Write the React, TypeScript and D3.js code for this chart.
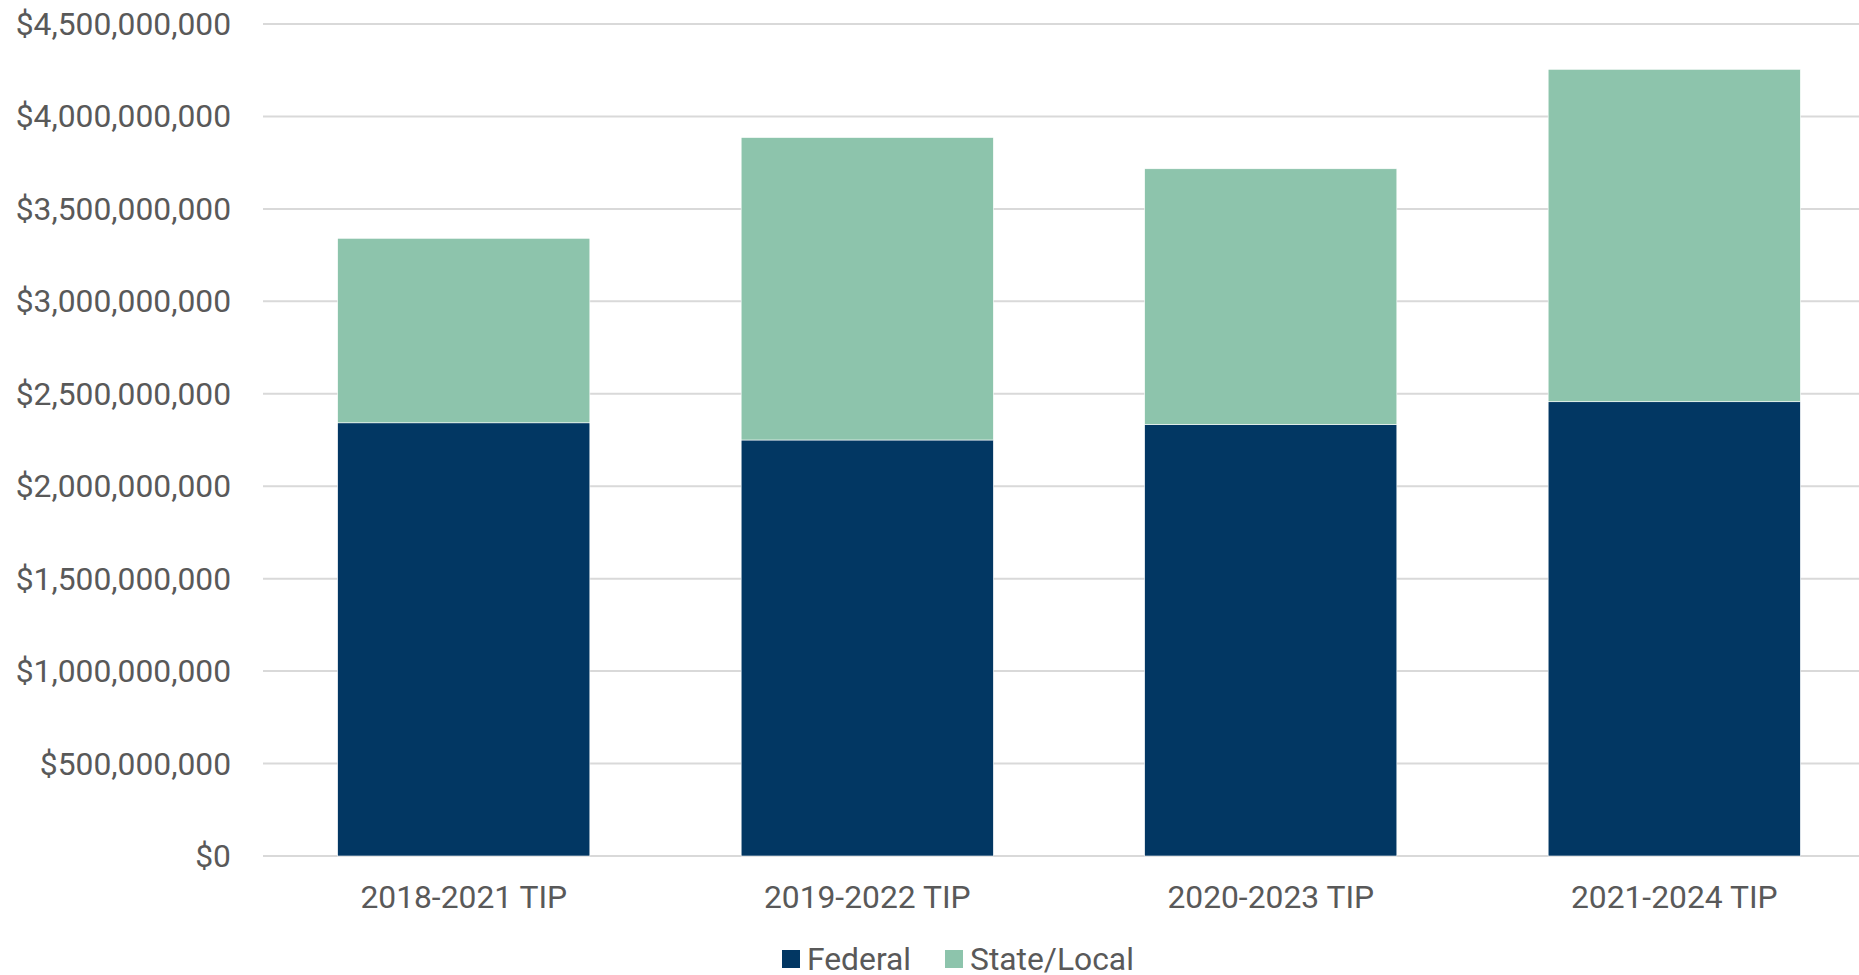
import React from "react";
import * as d3 from "d3";

const categories = ["2018-2021 TIP", "2019-2022 TIP", "2020-2023 TIP", "2021-2024 TIP"];
const federal = [2343000000, 2250000000, 2334000000, 2457000000];
const stateLocal = [998000000, 1636000000, 1383000000, 1798000000];
const seriesNames = ["Federal", "State/Local"];
const seriesColors = ["#023763", "#8DC4AC"];
const yTicks = [0, 500000000, 1000000000, 1500000000, 2000000000, 2500000000, 3000000000, 3500000000, 4000000000, 4500000000];

const W = 1859;
const H = 975;

export default function App() {
  const x = d3.scaleBand<string>().domain(categories).range([262, 1876]).paddingInner(0.375).paddingOuter(0.1875);
  const y = d3.scaleLinear().domain([0, 4500000000]).range([856, 24]);
  const rows = categories.map((c, i) => ({ cat: c, Federal: federal[i], "State/Local": stateLocal[i] }));
  const stacked = d3.stack<any>().keys(seriesNames)(rows);
  const fmt = (v: number) => "$" + d3.format(",")(v);
  const font = "Roboto, 'Liberation Sans', sans-serif";
  const textColor = "#595959";

  return (
    <svg width={W} height={H} style={{ position: "absolute", left: 0, top: 0, background: "#fff" }} fontFamily={font}>
      {yTicks.map((t) => (
        <g key={t}>
          <line x1={263} x2={W} y1={y(t)} y2={y(t)} stroke="#d9d9d9" strokeWidth={2} />
          <text x={231} y={y(t) + 11} textAnchor="end" fontSize={31.8} fill={textColor}>
            {fmt(t)}
          </text>
        </g>
      ))}
      {stacked.map((s, si) => (
        <g key={s.key}>
          {s.map((d, i) => (
            <rect
              key={i}
              x={x(categories[i])!}
              width={x.bandwidth()}
              y={y(d[1])}
              height={y(d[0]) - y(d[1])}
              fill={seriesColors[si]}
              stroke="#ffffff"
              strokeWidth={0.6}
            />
          ))}
        </g>
      ))}
      {categories.map((c) => (
        <text key={c} x={x(c)! + x.bandwidth() / 2} y={908} textAnchor="middle" fontSize={31.8} fill={textColor}>
          {c}
        </text>
      ))}
      <g>
        <rect x={782} y={950} width={18} height={18} fill={seriesColors[0]} />
        <text x={807} y={970} fontSize={31.8} fill={textColor}>{seriesNames[0]}</text>
        <rect x={945} y={950} width={18} height={18} fill={seriesColors[1]} />
        <text x={970} y={970} fontSize={31.8} fill={textColor}>{seriesNames[1]}</text>
      </g>
    </svg>
  );
}
